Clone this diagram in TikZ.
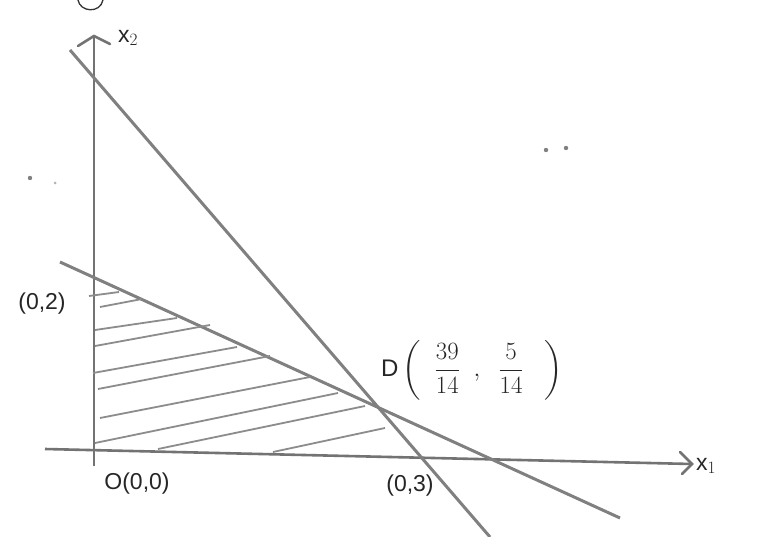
\documentclass[tikz,border=0pt]{standalone}
\usepackage{amsmath}
\usepackage{fontspec}
\setmainfont{Liberation Sans}
\usetikzlibrary{arrows.meta}
\begin{document}
\begin{tikzpicture}[x=1pt,y=-1pt,
  axisline/.style={draw=black!55,line width=2.6pt},
  conline/.style={draw=black!50,line width=3pt},
  hatchline/.style={draw=black!45,line width=1.8pt},
  lab/.style={text=black!85,font=\fontsize{23}{26}\selectfont,inner sep=1pt},
  speck/.style={fill=black!50,draw=none}]
\useasboundingbox[fill=white] (0,0) rectangle (775,537);
% axes
\coordinate (ybot) at (94,466);
\coordinate (ytop) at (94,36);
\coordinate (xl) at (45,449);
\coordinate (xr) at (692,464);
\draw[axisline] (ybot) -- (ytop);
\draw[axisline,line cap=round] (78,46) -- (ytop) -- (110,44);
\draw[axisline] (xl) -- (xr);
\draw[axisline,line cap=round] (680,452) -- (xr) -- (682,474);
% constraint lines
\coordinate (sA) at (70,50);
\coordinate (sB) at (490,537);
\coordinate (fA) at (60,262);
\coordinate (fB) at (620,518);
\draw[conline] (sA) -- (sB);
\draw[conline] (fA) -- (fB);
% hatching
\foreach \a/\b/\c/\d in {89/296/119/292, 100/307/142/299, 95/330/177/318,
  95/346/210/325, 93/373/237/347, 98/389/270/356, 100/418/310/377,
  95/443/338/393, 158/449/365/406, 273/452/385/428}
  \draw[hatchline] (\a,\b) -- (\c,\d);
% labels
\node[lab] (lx2) at (128,38) {x$_2$};
\node[lab] (l02) at (42,304) {(0,2)};
\node[lab,anchor=west,font=\fontsize{24}{28}\selectfont] (lD) at (380,370) {D\,$\left(\;\;\dfrac{39}{14}\;\;,\;\;\dfrac{5}{14}\;\;\;\right)$};
\node[lab] (lO) at (137,484) {O(0,0)};
\node[lab] (l03) at (410,486) {(0,3)};
\node[lab,anchor=west] (lx1) at (695,466) {x$_1$};
% fragment at top edge and specks
\draw[black!80,line width=1.3pt] (78,0) .. controls (80,12) and (100,14) .. (103,0);
\fill[speck] (30,178) circle (2.2);
\fill[speck,fill=black!30] (55,183) circle (1.5);
\fill[speck] (546,150) circle (2.2);
\fill[speck] (566,148) circle (2.2);
\end{tikzpicture}
\end{document}
